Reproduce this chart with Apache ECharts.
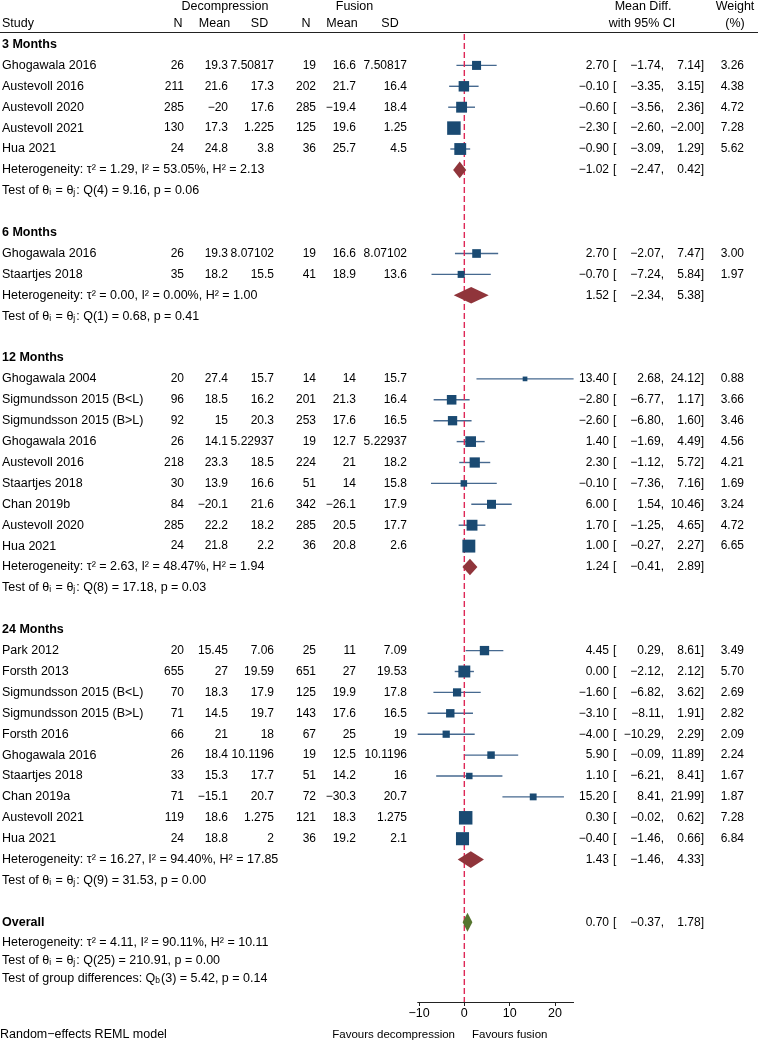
<!DOCTYPE html>
<html><head><meta charset="utf-8">
<script src="https://cdn.jsdelivr.net/npm/echarts@6/dist/echarts.min.js"></script>
<style>html,body{margin:0;padding:0;background:#fff}#c{width:758px;height:1041px}</style>
</head><body><div id="c"></div>
<script>
// ---------------- DATA ----------------
const groupNames = ['3 Months', '6 Months', '12 Months', '24 Months'];
const studyNames = ['Ghogawala 2016','Austevoll 2016','Austevoll 2020','Austevoll 2021','Hua 2021',
  'Ghogawala 2016','Staartjes 2018',
  'Ghogawala 2004','Sigmundsson 2015 (B<L)','Sigmundsson 2015 (B>L)','Ghogawala 2016','Austevoll 2016','Staartjes 2018','Chan 2019b','Austevoll 2020','Hua 2021',
  'Park 2012','Forsth 2013','Sigmundsson 2015 (B<L)','Sigmundsson 2015 (B>L)','Forsth 2016','Ghogawala 2016','Staartjes 2018','Chan 2019a','Austevoll 2021','Hua 2021'];
const studyGroup = [0,0,0,0,0, 1,1, 2,2,2,2,2,2,2,2,2, 3,3,3,3,3,3,3,3,3,3];
const decN    = [26,211,285,130,24, 26,35, 20,96,92,26,218,30,84,285,24, 20,655,70,71,66,26,33,71,119,24];
const decMean = [19.3,21.6,-20,17.3,24.8, 19.3,18.2, 27.4,18.5,15,14.1,23.3,13.9,-20.1,22.2,21.8, 15.45,27,18.3,14.5,21,18.4,15.3,-15.1,18.6,18.8];
const decSD   = [7.50817,17.3,17.6,1.225,3.8, 8.07102,15.5, 15.7,16.2,20.3,5.22937,18.5,16.6,21.6,18.2,2.2, 7.06,19.59,17.9,19.7,18,10.1196,17.7,20.7,1.275,2];
const fusN    = [19,202,285,125,36, 19,41, 14,201,253,19,224,51,342,285,36, 25,651,125,143,67,19,51,72,121,36];
const fusMean = [16.6,21.7,-19.4,19.6,25.7, 16.6,18.9, 14,21.3,17.6,12.7,21,14,-26.1,20.5,20.8, 11,27,19.9,17.6,25,12.5,14.2,-30.3,18.3,19.2];
const fusSD   = [7.50817,16.4,18.4,1.25,4.5, 8.07102,13.6, 15.7,16.4,16.5,5.22937,18.2,15.8,17.9,17.7,2.6, 7.09,19.53,17.8,16.5,19,10.1196,16,20.7,1.275,2.1];
const effect  = [2.70,-0.10,-0.60,-2.30,-0.90, 2.70,-0.70, 13.40,-2.80,-2.60,1.40,2.30,-0.10,6.00,1.70,1.00, 4.45,0.00,-1.60,-3.10,-4.00,5.90,1.10,15.20,0.30,-0.40];
const ciLow   = [-1.74,-3.35,-3.56,-2.60,-3.09, -2.07,-7.24, 2.68,-6.77,-6.80,-1.69,-1.12,-7.36,1.54,-1.25,-0.27, 0.29,-2.12,-6.82,-8.11,-10.29,-0.09,-6.21,8.41,-0.02,-1.46];
const ciHigh  = [7.14,3.15,2.36,-2.00,1.29, 7.47,5.84, 24.12,1.17,1.60,4.49,5.72,7.16,10.46,4.65,2.27, 8.61,2.12,3.62,1.91,2.29,11.89,8.41,21.99,0.62,0.66];
const weight  = [3.26,4.38,4.72,7.28,5.62, 3.00,1.97, 0.88,3.66,3.46,4.56,4.21,1.69,3.24,4.72,6.65, 3.49,5.70,2.69,2.82,2.09,2.24,1.67,1.87,7.28,6.84];

const groupEffect = [-1.02, 1.52, 1.24, 1.43];
const groupLow    = [-2.47, -2.34, -0.41, -1.46];
const groupHigh   = [0.42, 5.38, 2.89, 4.33];
const groupTau2   = [1.29, 0.00, 2.63, 16.27];
const groupI2     = [53.05, 0.00, 48.47, 94.40];
const groupH2     = [2.13, 1.00, 1.94, 17.85];
const groupQdf    = [4, 1, 8, 9];
const groupQ      = [9.16, 0.68, 17.18, 31.53];
const groupP      = [0.06, 0.41, 0.03, 0.00];

const overallEffect = 0.70, overallLow = -0.37, overallHigh = 1.78;
const overallTau2 = 4.11, overallI2 = 90.11, overallH2 = 10.11;
const overallQdf = 25, overallQ = 210.91, overallP = 0.00;
const diffQdf = 3, diffQ = 5.42, diffP = 0.14;

const xTicks = [-10, 0, 10, 20];
const xMin = -10.29, xMax = 24.12;

// ---------------- LAYOUT ----------------
const FONT = '"Liberation Sans", Arial, Helvetica, sans-serif';
const FS = 12.5, FSN = 12;
const ROW0 = 44.5, ROWH = 20.9, AXIS_Y = 1002;
const Y_MIN = -2;
const Y_MAX = (AXIS_Y - ROW0) / ROWH;
const GRID_LEFT = 417.7, GRID_RIGHT = 758 - 573.6;
const COL = {study:2, decN:184, decMean:228, decSD:274, fusN:316, fusMean:356, fusSD:407,
             es:609, br:613, lo:664, hi:704, wt:744};
const SQ_MAX = 13.5, W_MAX = 7.28;
const NAVY = '#1a4a72', CI_COL = '#46698f', MAROON = '#90353b', GREEN = '#55752f', REF = '#de2856';

const neg = s => String(s).replace('-', '\u2212');
const f2 = v => neg(v.toFixed(2));

const rows = [];
let pos = 0;
groupNames.forEach((g, gi) => {
  rows.push({kind:'group', g:gi, pos:pos++});
  studyNames.forEach((n, i) => { if (studyGroup[i] === gi) rows.push({kind:'study', i, pos:pos++}); });
  rows.push({kind:'sum', g:gi, pos:pos++});
  rows.push({kind:'test', g:gi, pos:pos++});
  pos++;
});
rows.push({kind:'overall', pos:pos++});
rows.push({kind:'ohet', pos:pos - 0.05});
pos++;
rows.push({kind:'otest', pos:pos - 0.15});
rows.push({kind:'gdiff', pos:pos + 0.68});

const RICH = {
  a: {fontSize: FS, fontFamily: FONT, fill: '#000'},
  s: {fontSize: 8.5, fontFamily: FONT, fill: '#000', verticalAlign: 'bottom', padding:[0, 1, 0, 0]}
};
function txt(text, x, y, align, extra) {
  return {type:'text', style: Object.assign({text, x, y, align, verticalAlign:'middle',
    fill:'#000', fontSize:FS, fontFamily:FONT}, extra || {})};
}
function num(text, x, y) { return txt(text, x, y, 'right', {fontSize: FSN}); }
function esTexts(children, y, e, lo, hi, w) {
  children.push(num(f2(e), COL.es, y));
  children.push(txt('[', COL.br, y, 'left', {fontSize: FSN}));
  children.push(num(f2(lo) + ',', COL.lo, y));
  children.push(num(f2(hi) + ']', COL.hi, y));
  if (w != null) children.push(num(w.toFixed(2), COL.wt, y));
}
function hetText(t, i, h) {
  return 'Heterogeneity: \u03c4\u00b2 = ' + t.toFixed(2) + ', I\u00b2 = ' + i.toFixed(2) + '%, H\u00b2 = ' + h.toFixed(2);
}
function testRich(df, q, p) {
  return '{a|Test of \u03b8}{s|i}{a| = \u03b8}{s|j}{a|: Q(' + df + ') = ' + q.toFixed(2) + ', p = ' + p.toFixed(2) + '}';
}
function diamond(api, pos, e, lo, hi, h, color) {
  const c = api.coord([e, pos]), l = api.coord([lo, pos]), r = api.coord([hi, pos]);
  return {type:'polygon', shape:{points:[[l[0], c[1]], [c[0], c[1] - h], [r[0], c[1]], [c[0], c[1] + h]]},
    style:{fill: color}};
}

function renderCI(params, api) {
  const r = rows[params.dataIndex];
  if (r.kind !== 'study') return null;
  const p1 = api.coord([ciLow[r.i], r.pos]), p2 = api.coord([ciHigh[r.i], r.pos]);
  return {type:'line', shape:{x1:p1[0], y1:p1[1], x2:p2[0], y2:p2[1]},
    style:{stroke: CI_COL, lineWidth: 1.4}};
}
function renderRef(params, api) {
  const a = api.coord([0, -0.5]), b = api.coord([0, Y_MAX]);
  return {type:'line', shape:{x1:a[0], y1:a[1], x2:b[0], y2:b[1]},
    style:{stroke: REF, lineWidth: 1.4, lineDash:[6, 3]}};
}
function renderMarks(params, api) {
  const r = rows[params.dataIndex];
  if (r.kind === 'study') {
    const c = api.coord([effect[r.i], r.pos]);
    const s = SQ_MAX * Math.sqrt(weight[r.i] / W_MAX);
    return {type:'rect', shape:{x:c[0] - s/2, y:c[1] - s/2, width:s, height:s}, style:{fill: NAVY}};
  }
  if (r.kind === 'sum') return diamond(api, r.pos, groupEffect[r.g], groupLow[r.g], groupHigh[r.g], 8.3, MAROON);
  if (r.kind === 'overall') return diamond(api, r.pos, overallEffect, overallLow, overallHigh, 9.5, GREEN);
  return null;
}
function renderText(params, api) {
  const r = rows[params.dataIndex];
  const y = api.coord([0, r.pos])[1];
  const ch = [];
  if (r.kind === 'group') ch.push(txt(groupNames[r.g], COL.study, y, 'left', {fontWeight:'bold'}));
  else if (r.kind === 'study') {
    const i = r.i;
    ch.push(txt(studyNames[i], COL.study, y, 'left'));
    ch.push(num(neg(decN[i]), COL.decN, y));
    ch.push(num(neg(decMean[i]), COL.decMean, y));
    ch.push(num(neg(decSD[i]), COL.decSD, y));
    ch.push(num(neg(fusN[i]), COL.fusN, y));
    ch.push(num(neg(fusMean[i]), COL.fusMean, y));
    ch.push(num(neg(fusSD[i]), COL.fusSD, y));
    esTexts(ch, y, effect[i], ciLow[i], ciHigh[i], weight[i]);
  } else if (r.kind === 'sum') {
    ch.push(txt(hetText(groupTau2[r.g], groupI2[r.g], groupH2[r.g]), COL.study, y, 'left'));
    esTexts(ch, y, groupEffect[r.g], groupLow[r.g], groupHigh[r.g], null);
  } else if (r.kind === 'test') {
    ch.push(txt(testRich(groupQdf[r.g], groupQ[r.g], groupP[r.g]), COL.study, y, 'left', {rich: RICH}));
  } else if (r.kind === 'overall') {
    ch.push(txt('Overall', COL.study, y, 'left', {fontWeight:'bold'}));
    esTexts(ch, y, overallEffect, overallLow, overallHigh, null);
  } else if (r.kind === 'ohet') {
    ch.push(txt(hetText(overallTau2, overallI2, overallH2), COL.study, y, 'left'));
  } else if (r.kind === 'otest') {
    ch.push(txt(testRich(overallQdf, overallQ, overallP), COL.study, y, 'left', {rich: RICH}));
  } else if (r.kind === 'gdiff') {
    ch.push(txt('{a|Test of group differences: Q}{s|b}{a|(' + diffQdf + ') = ' + diffQ.toFixed(2) + ', p = ' + diffP.toFixed(2) + '}',
      COL.study, y, 'left', {rich: RICH}));
  }
  return {type:'group', children: ch};
}

const rowData = rows.map(r => [0, r.pos]);
const hdr = (text, x, y, align, fs) => ({type:'text', x, y,
  style:{text, x:0, y:0, align, verticalAlign:'middle', fill:'#000', fontSize: fs || FS, fontFamily:FONT}});

const chart = echarts.init(document.getElementById('c'), null, {renderer:'canvas'});
chart.setOption({
  animation: false,
  backgroundColor: '#fff',
  grid: {left: GRID_LEFT, right: GRID_RIGHT, top: ROW0 + Y_MIN * ROWH, bottom: 1041 - AXIS_Y, containLabel: false},
  xAxis: {type:'value', position:'bottom', min:xMin, max:xMax, splitLine:{show:false},
    axisLine:{show:true, onZero:false, lineStyle:{color:'#222', width:1}},
    axisTick:{show:true, length:4, lineStyle:{color:'#222'}, customValues: xTicks},
    axisLabel:{show:true, margin:5, color:'#000', fontSize:FS, fontFamily:FONT, customValues: xTicks,
      formatter: v => neg(v)}},
  yAxis: {type:'value', inverse:true, min:Y_MIN, max:Y_MAX, show:false},
  series: [
    {type:'custom', data: rowData, renderItem: renderCI, clip:false, silent:true, z:2},
    {type:'custom', data: [[0, 0]], renderItem: renderRef, clip:false, silent:true, z:3},
    {type:'custom', data: rowData, renderItem: renderMarks, clip:false, silent:true, z:4},
    {type:'custom', data: rowData, renderItem: renderText, clip:false, silent:true, z:5}
  ],
  graphic: [
    hdr('Decompression', 225, 7, 'center'),
    hdr('Fusion', 354.5, 7, 'center'),
    hdr('Mean Diff.', 643, 7, 'center'),
    hdr('Weight', 735, 7, 'center'),
    hdr('Study', 2, 24, 'left'),
    hdr('N', 178, 24, 'center'),
    hdr('Mean', 214.5, 24, 'center'),
    hdr('SD', 259.5, 24, 'center'),
    hdr('N', 306, 24, 'center'),
    hdr('Mean', 342, 24, 'center'),
    hdr('SD', 390, 24, 'center'),
    hdr('with 95% CI', 642, 24, 'center'),
    hdr('(%)', 735, 24, 'center'),
    {type:'line', shape:{x1:0, y1:32.5, x2:758, y2:32.5}, style:{stroke:'#222', lineWidth:1.2}},
    hdr('Random\u2212effects REML model', 0, 1035, 'left'),
    hdr('Favours decompression', 455, 1035, 'right', 11.5),
    hdr('Favours fusion', 472, 1035, 'left', 11.5)
  ]
});
</script></body></html>
